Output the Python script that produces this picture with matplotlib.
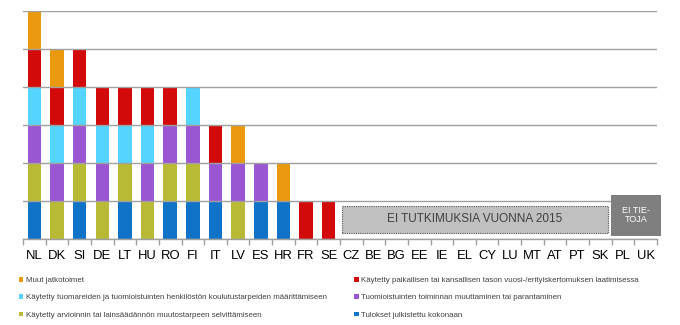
import matplotlib
matplotlib.use("Agg")
import matplotlib.pyplot as plt
from matplotlib.patches import Patch, Rectangle
import numpy as np

plt.rcParams['font.family'] = ['Liberation Sans', 'DejaVu Sans']

countries = ['NL', 'DK', 'SI', 'DE', 'LT', 'HU', 'RO', 'FI', 'IT', 'LV', 'ES', 'HR', 'FR', 'SE',
             'CZ', 'BE', 'BG', 'EE', 'IE', 'EL', 'CY', 'LU', 'MT', 'AT', 'PT', 'SK', 'PL', 'UK']

tulokset   = [1, 0, 1, 0, 1, 0, 1, 1, 1, 0, 1, 1, 0, 0] + [0] * 14
arviointi  = [1, 1, 1, 1, 1, 1, 1, 1, 0, 1, 0, 0, 0, 0] + [0] * 14
toiminta   = [1, 1, 1, 1, 0, 1, 1, 1, 1, 1, 1, 0, 0, 0] + [0] * 14
koulutus   = [1, 1, 1, 1, 1, 1, 0, 1, 0, 0, 0, 0, 0, 0] + [0] * 14
vuosikert  = [1, 1, 1, 1, 1, 1, 1, 0, 1, 0, 0, 0, 1, 1] + [0] * 14
muut       = [1, 1, 0, 0, 0, 0, 0, 0, 0, 1, 0, 1, 0, 0] + [0] * 14

series = [
    ("Tulokset julkistettu kokonaan", tulokset, "#0F74C8"),
    ("Käytetty arvioinnin tai lainsäädännön muutostarpeen selvittämiseen", arviointi, "#B8B934"),
    ("Tuomioistuinten toiminnan muuttaminen tai parantaminen", toiminta, "#9B56D2"),
    ("Käytetty tuomareiden ja tuomioistuinten henkilöstön koulutustarpeiden määrittämiseen", koulutus, "#55D4FF"),
    ("Käytetty paikallisen tai kansallisen tason vuosi-/erityiskertomuksen laatimisessa", vuosikert, "#D20A0A"),
    ("Muut jatkotoimet", muut, "#EB9A0F"),
]

no_study_label = "EI TUTKIMUKSIA VUONNA 2015"
no_data_label = "EI TIE-\nTOJA"

fig = plt.figure(figsize=(6.8, 3.25), dpi=100)
ax = fig.add_axes([0.034, 0.2655, 0.932, 0.7015])

x = np.arange(len(countries))
bottom = np.zeros(len(countries))
handles = {}
for name, vals, col in series:
    v = np.array(vals, dtype=float)
    ax.bar(x, v, 0.6, bottom=bottom, color=col, zorder=2, linewidth=0)
    handles[name] = Patch(facecolor=col, edgecolor='none')
    bottom += v

ax.set_xlim(-0.5, len(countries) - 0.5)
ax.set_ylim(0, 6)
ax.set_yticks(np.arange(0, 7, 1))
ax.set_yticklabels([])
ax.tick_params(axis='y', length=0)
ax.yaxis.grid(True, color='#A0A0A0', linewidth=1.0, zorder=3)
ax.set_axisbelow(False)
for s in ['top', 'right', 'left']:
    ax.spines[s].set_visible(False)
ax.spines['bottom'].set_color('#A0A0A0')
ax.spines['bottom'].set_linewidth(1.0)

ax.set_xticks(x)
ax.set_xticklabels(countries, fontsize=9.4, color='#000000')
ax.tick_params(axis='x', which='major', length=0, pad=8)
ax.set_xticks(np.arange(-0.5, len(countries), 1), minor=True)
ax.tick_params(axis='x', which='minor', length=4, color='#A0A0A0', width=1)

# Annotation boxes
ax.add_patch(Rectangle((13.6, 0.16), 11.72, 0.70, facecolor='#C0C0C0', edgecolor='#505050',
                       linestyle=(0, (1, 1)), linewidth=0.8, zorder=4, clip_on=False))
ax.text(19.46, 0.51, no_study_label, ha='center', va='center', fontsize=8.5, color='#404040', zorder=5)
ax.add_patch(Rectangle((25.47, 0.08), 2.21, 1.07, facecolor='#7F7F7F', edgecolor='none',
                       zorder=4, clip_on=False))
ax.text(26.58, 0.62, no_data_label, ha='center', va='center', fontsize=6.5, color='white',
        linespacing=1.0, zorder=5)

order_left = ["Muut jatkotoimet",
              "Käytetty tuomareiden ja tuomioistuinten henkilöstön koulutustarpeiden määrittämiseen",
              "Käytetty arvioinnin tai lainsäädännön muutostarpeen selvittämiseen"]
order_right = ["Käytetty paikallisen tai kansallisen tason vuosi-/erityiskertomuksen laatimisessa",
               "Tuomioistuinten toiminnan muuttaminen tai parantaminen",
               "Tulokset julkistettu kokonaan"]

for names, xpos in [(order_left, 0.028), (order_right, 0.521)]:
    leg = fig.legend([handles[n] for n in names], names, loc='upper left',
                     bbox_to_anchor=(xpos, 0.148), bbox_transform=fig.transFigure,
                     frameon=False, fontsize=5.65, handlelength=0.55, handleheight=0.55,
                     handletextpad=0.3, labelspacing=1.3, borderpad=0, borderaxespad=0)
    for t in leg.get_texts():
        t.set_color('#404040')

fig.savefig("out.png", dpi=100)
